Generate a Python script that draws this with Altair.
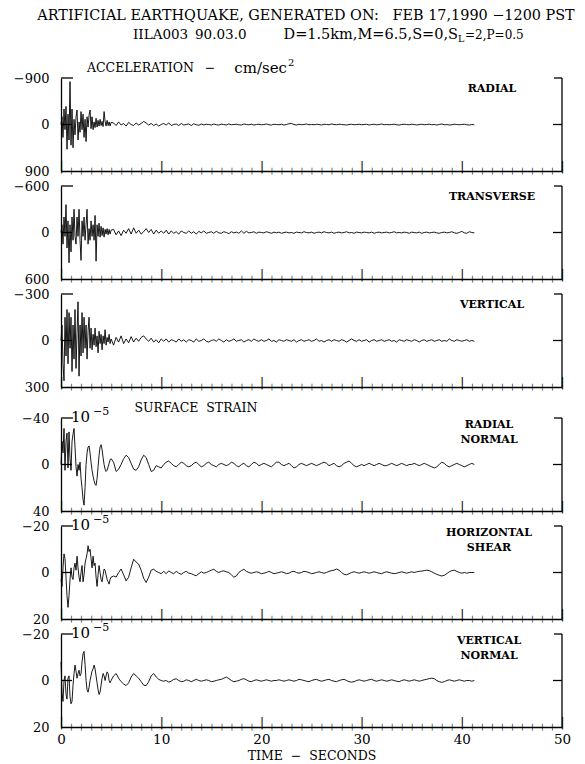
import altair as alt
import pandas as pd

FONT = "DejaVu Serif"
W = 501
H = 93
NB = "\u00a0"

EARLY_STEP = 0.1
TAIL_START = 5.25
TAIL_STEP = 0.25

# ---------------- data ----------------
# acceleration, cm/sec^2 (negative plotted upward)
acc_radial_early = [0, -150, 250, -300, 100, -350, 480, -200, 300, -830,
                    400, -300, 450, -100, 200, -150, -280, 300, -50, 150,
                    -250, 100, -200, 250, -100, 330, -150, 50, -180, -280,
                    80, -150, 100, -50, 60, -120, 50, -80, 30, -100,
                    20, -60, 40, -250, -60, 30, -80, 20, -50, 30, -40]
acc_radial_tail = [-30, 20, -50, 10, -20, 30, -40, 0, 20, -30,
                   10, -20, -60, -30, 10, -20, 20, -10, 30, 0,
                   -20, 10, -30, 20, 0, -10, 20, -20, 10, 0,
                   -10, 20, -15, 5, 15, -10, 10, -5, 0, 10,
                   -10, 5, 10, -5, 0, 10, -10, 5, 0, -5,
                   5, 10, -10, 0, 5, -5, 10, 0, -5, 5,
                   0, -10, 5, 10, -5, 0, 5, -5, 10, 0,
                   -15, -20, 0, 10, -5, 5, 0, -10, 5, 0,
                   5, -5, 0, 10, -5, 0, 5, -10, 0, 5,
                   -5, 0, 5, 10, 0, -5, 5, 0, -5, 5,
                   0, -5, 10, 0, -5, 5, 0, -10, 5, 0,
                   5, 0, -5, 5, 10, 0, -5, 0, 5, -5,
                   0, 10, 0, -5, 5, 0, -5, 5, 0, 10,
                   0, -10, 5, 0, 10, 5, -5, 0, 5, 0,
                   -5, 5, 10, 0, 5]
acc_trans_early = [0, -100, 150, -200, 50, -360, 200, -150, 390, -100,
                   250, -200, 100, -300, 50, 150, -200, 50, -300, 100,
                   360, -150, 50, -200, 100, -100, -300, 150, -50, 100,
                   -150, 50, -100, 100, -220, 370, -100, 50, -120, 60,
                   -80, 40, -60, 60, -40, 20, -50, 30, -40, 20, -30]
acc_trans_tail = [-40, 30, -20, 40, -30, 10, -50, 20, -60, 10,
                  -30, 20, -10, -50, 0, -40, 20, -30, 10, -20,
                  10, -30, 20, -20, 10, -10, 20, -20, 0, 10,
                  -20, 10, -10, 20, -15, 5, -20, 10, 0, -10,
                  10, -15, 5, 10, -10, 0, 15, -10, 5, -5,
                  10, -20, 10, -15, 5, 0, -10, 10, -5, 0,
                  5, -10, 0, 10, -5, 5, -5, 10, 0, -5,
                  5, 0, 10, -5, 0, 5, -10, 0, 5, -5,
                  10, 0, -5, 5, -10, 0, 5, -5, 10, 0,
                  -5, 5, 0, -10, 5, 0, 10, -5, 0, 5,
                  -5, 0, 5, -5, 10, 0, -5, 5, 0, -5,
                  5, 0, -10, 5, 0, 5, -5, 0, 10, -5,
                  0, 5, -5, 10, 0, -5, 5, 0, -5, 5,
                  10, 0, -5, 5, 0, -10, 5, 10, 0, -15,
                  5, 10, -10, 0, 5]
acc_vert_early = [0, -100, 150, 260, -150, 100, -200, 150, -180, 50,
                  -150, 200, -100, 120, -200, 180, -50, -250, 230, -100,
                  100, -180, 80, -150, 50, -100, 120, -60, -150, 50,
                  -80, 60, -40, 30, -80, 40, -30, 80, -60, 20,
                  -40, 60, -30, 20, -70, 30, -20, 10, -40, 20, -10]
acc_vert_tail = [30, -20, 10, -30, 20, -10, 15, -25, 10, -15,
                 5, -20, -30, -10, 5, -15, 10, -5, 15, -10,
                 5, -10, 10, -5, 0, 10, -10, 5, -5, 10,
                 -5, 0, 10, -10, 5, 0, -10, 5, 10, 0,
                 -5, 5, -10, 0, 10, -5, 5, 0, -10, 5,
                 0, -5, 10, 0, -5, 5, -10, 0, 5, -5,
                 5, 0, -10, 5, 0, 10, -5, 0, 5, -5,
                 0, 5, -5, 10, 0, -5, 5, 0, -5, 5,
                 0, -10, 5, 0, 10, 0, -5, 5, -5, 0,
                 5, -5, 0, 10, 0, -10, 0, 5, -5, 5,
                 0, -5, 10, 0, -5, 5, 0, -5, 5, 0,
                 -5, 5, 0, 10, -5, 0, 5, -5, 0, 5,
                 -5, 0, 10, 0, -5, 5, 0, -5, 5, 0,
                 -5, 5, 0, 5, -10, 0, 5, -5, 0, 5,
                 0, -5, 5, 0, 5]
# surface strain, 1e-5
str_radial_early = [0, -20, -10, -31, 5, -20, -27, 3, -28, -5,
                    5, -20, -26, -31, -15, 2, 10, 0, 5, -2,
                    12, 20, 30, 35, 20, 0, -10, -15, -16, -10,
                    -2, 5, 10, 14, 17, 18, 12, 2, -8, -15,
                    -17, -13, -6, 0, 4, 6, 5, 2, -1, -4, -5]
str_radial_tail = [-2, 6, 4, 0, -5, -8, -6, -1, 4, 5,
                   2, -4, -8, -6, 0, 6, 5, 1, 2, 3,
                   0, -2, -3, -1, 1, 2, 0, -2, -1, 1,
                   2, 1, -1, -2, 0, 2, 1, -1, -2, 0,
                   1, 2, 0, -1, 0, 1, 0, -2, -1, 1,
                   2, 0, -1, 1, 2, 0, -2, -1, 1, 0,
                   -1, 0, 1, 2, 0, -2, -2, 0, 1, 0,
                   -1, 1, 3, 2, 0, -1, 0, 1, 0, -1,
                   0, 1, 0, -1, -2, -1, 1, 0, -1, 1,
                   2, 1, -1, -2, -3, -1, 1, 2, 1, 0,
                   1, 0, -1, 0, 1, 0, -1, 0, 1, 1,
                   0, -1, 0, 1, 0, -1, 0, 1, 0, 0,
                   -1, 0, 1, 0, -1, 0, 1, 2, 3, 2,
                   0, -2, -1, 1, 2, 1, 0, -1, 0, 1,
                   2, 1, 0, -1, 0]
str_shear_early = [3, 6, -2, -8, -6, 2, 10, 15, 10, 3,
                   -2, 2, 3, -2, -4, -1, -7, -2, 2, 4,
                   0, -3, 4, 1, -4, -6, -8, -11.5, -9, -10,
                   -6, -2, -7, -3, -4, 2, 6, 1, -3, 0,
                   3, 4, 1, -1.5, -1, 1, 3, 4, 5, 3, 2]
str_shear_tail = [1.5, 2, 0, -1.5, 1, 3.6, 2, -2, -5.7, -4.5,
                  -3.6, -1, 2.5, 4.3, 2, -1, -1.4, -0.5, 0, 0.5,
                  -0.5, 0.5, -0.7, 0, 0.5, -0.5, 0.3, 0.8, 0, -0.5,
                  0.3, 0.5, 1, 1.4, 0.5, -0.3, 0.3, 0, -0.5, -1,
                  -1.4, -0.5, 0, -0.5, -0.7, -0.3, 0, 1, 2, 1.5,
                  0, -0.8, -1.4, -0.5, 0, 0.3, 0, -0.3, 0, 0.5,
                  0.3, 0, -0.5, 0, 0.5, 0.3, 0, -0.3, 0, 0.5,
                  0.3, -0.3, -0.5, 0, 0.3, 0, -0.5, -0.3, 0, 0.5,
                  0.3, 0, -0.3, 0, 0.3, 0, -0.5, -0.8, -1, -1.5,
                  -1, 0, 0.8, 1, 0.5, 0, -0.3, 0, 0.3, 0,
                  -0.3, 0, 0.3, 0, -0.3, 0, 0.3, 0.5, 0, -0.3,
                  0, 0.3, 0.5, 0.3, 0, -0.3, 0, 0.3, 0, -0.3,
                  0, -0.3, -0.5, -0.6, -0.8, -1, -0.8, -0.3, 0.3, 0.8,
                  1.2, 1.5, 1.2, 0.5, -0.3, -0.8, -1, -0.5, 0, 0.3,
                  0, 0.3, 0, 0, 0]
str_vert_early = [-8, 5, 9, 0, -2, 6, 8, -1, -2, 7,
                  10, 9, 2, -3, -6.6, -4, -1, -3, -4.4, -2,
                  -3, -8, -11.5, -12.5, -7, 0, 4, 5, 3, 0,
                  -2, -4, -5, -6.6, -5, -2, 1, 4, 6, 5,
                  2, -1, -3, -2, 0, -2, -3.7, -3, 0, 1, 0]
str_vert_tail = [-2, -3, -1, 0.5, 1.5, 2.2, 1, -1.5, -3, -2,
                 -1, 0.5, 2, 2.2, 0.5, -2, -3, -1.5, -0.5, 0,
                 0.3, 0, 0.7, 0.3, -0.5, -0.7, 0, 0.5, 0.3, -0.3,
                 0, 0.5, 0, -0.5, 0, 0.3, 0, -0.3, 0, 0.5,
                 0.3, 0, -0.3, -0.5, -1, -1.5, -0.8, 0, 0.5, 0.3,
                 0, -0.5, -0.8, -0.3, 0.3, 0.5, 0, -0.3, 0, 0.3,
                 0, -0.3, 0, 0.3, 0, 0, -0.3, 0, 0.3, 0,
                 -0.3, 0, 0.3, 0, -0.5, -0.3, 0, 0.3, 0.5, 0,
                 -0.3, -0.5, 0, 0.3, 0, -0.3, -0.5, 0, 0.3, 0.5,
                 0, -0.3, -0.5, 0, 0.5, 0.7, 0.5, 0, -0.3, 0,
                 0.3, 0, -0.3, -0.5, 0, 0.3, 0, -0.3, 0, 0.3,
                 0, -0.3, 0, 0.3, 0.5, 0, -0.3, 0, 0.3, 0,
                 -0.3, 0, 0.3, 0, -0.3, -0.5, -0.8, -1, -0.8, 0,
                 0.5, 0.8, 0.5, 0, -0.3, 0, 0.3, 0, -0.3, 0,
                 0.3, 0, 0, 0.3, 0]

PANEL_LIMITS = [900, 600, 300, 40, 20, 20]
PANEL_NAMES = [["RADIAL"], ["TRANSVERSE"], ["VERTICAL"],
               ["RADIAL", "NORMAL"], ["HORIZONTAL", "SHEAR"], ["VERTICAL", "NORMAL"]]
SECOND_TICKS = list(range(0, 51))
DECADE_TICKS = [0, 10, 20, 30, 40, 50]

TITLE_1 = "ARTIFICIAL EARTHQUAKE, GENERATED ON:" + NB * 3 + "FEB 17,1990 \u22121200 PST"
TITLE_2_ID = "IILA003"
TITLE_2_VER = "90.03.0"
TITLE_2A = "D=1.5km,M=6.5,S=0,S"
TITLE_2SUB = "L"
TITLE_2B = "=2,P=0.5"
ACC_WORD = "ACCELERATION"
ACC_DASH = "\u2212"
ACC_UNIT = "cm/sec"
ACC_POW = "2"
STRAIN_LABEL = "SURFACE" + NB * 2 + "STRAIN"
EXP_BASE = "10"
EXP_POW = "\u22125"
X_TITLE = "TIME" + NB * 2 + "\u2212" + NB * 2 + "SECONDS"


def series(early, tail):
    t = [round(i * EARLY_STEP, 3) for i in range(len(early))]
    t += [round(TAIL_START + i * TAIL_STEP, 3) for i in range(len(tail))]
    return pd.DataFrame({"t": t, "v": list(early) + list(tail)})


TRACES = [series(acc_radial_early, acc_radial_tail),
          series(acc_trans_early, acc_trans_tail),
          series(acc_vert_early, acc_vert_tail),
          series(str_radial_early, str_radial_tail),
          series(str_shear_early, str_shear_tail),
          series(str_vert_early, str_vert_tail)]

one = pd.DataFrame({"k": [0]})
LW = 1.3
X_SCALE = alt.Scale(domain=[0, 50], nice=False, zero=False)


def txt(s, x, y, size=12, align="center", baseline="middle", weight="normal"):
    return alt.Chart(one).mark_text(
        text=s, font=FONT, fontSize=size, align=align, baseline=baseline,
        color="black", fontWeight=weight
    ).encode(x=alt.value(x), y=alt.value(y))


def seg(**enc):
    return alt.Chart(one).mark_rule(color="black", strokeWidth=LW).encode(**enc)


def bottom_axis():
    # a top-oriented axis pulled down to the bottom edge; its "|" labels stand on the
    # bottom line as inward ticks: short every second, long every ten seconds
    return alt.Axis(orient="top", offset=-H, values=SECOND_TICKS, ticks=False,
                    domain=True, grid=False, labels=True,
                    labelExpr="'|'", labelFont="DejaVu Sans", labelColor="black",
                    labelFontSize={"condition": {"test": "datum.value % 10 === 0", "value": 12},
                                   "value": 7},
                    labelPadding=-2, labelOverlap=False, labelFlush=False, labelBound=False)


def panel(i):
    lim = PANEL_LIMITS[i]
    x_enc = alt.X("t:Q", scale=X_SCALE, axis=bottom_axis(), title=None)
    y_axis = alt.Axis(values=[-lim, 0, lim], ticks=False, grid=False, domain=True,
                      labelPadding=12,
                      labelExpr="datum.value == 0 ? '0' : datum.label + '" + NB + NB + "'")
    y_enc = alt.Y("v:Q", scale=alt.Scale(domain=[-lim, lim], reverse=True, nice=False, zero=False),
                  axis=y_axis, title=None)

    trace = alt.Chart(TRACES[i]).mark_line(color="black", strokeWidth=0.9).encode(x=x_enc, y=y_enc)

    layers = [trace,
              seg(x=alt.value(W), y=alt.value(0), y2=alt.value(H)),
              seg(x=alt.value(0), x2=alt.value(12), y=alt.value(0)),
              seg(x=alt.value(W - 8), x2=alt.value(W), y=alt.value(0)),
              seg(x=alt.value(0), x2=alt.value(11), y=alt.value(H / 2)),
              seg(x=alt.value(W - 9), x2=alt.value(W), y=alt.value(H / 2))]

    names = PANEL_NAMES[i]
    if len(names) == 1:
        layers.append(txt(names[0], 431, 11, size=11, weight="bold"))
    else:
        layers.append(txt(names[0], 428, 7, size=11, weight="bold"))
        layers.append(txt(names[1], 428, 22, size=11, weight="bold"))

    if i == 0:
        layers.append(txt(TITLE_1, 245, -62, size=14.4))
        layers.append(txt(TITLE_2_ID, 72, -43, size=13.5, align="left"))
        layers.append(txt(TITLE_2_VER, 134, -43, size=13.5, align="left"))
        layers.append(txt(TITLE_2A, 397, -43, size=14.5, align="right"))
        layers.append(txt(TITLE_2SUB, 397, -39, size=9.5, align="left"))
        layers.append(txt(TITLE_2B, 404, -43, size=12, align="left"))
        layers.append(txt(ACC_WORD, 26, -10, size=12.5, align="left"))
        layers.append(txt(ACC_DASH, 149, -10, size=12.5))
        layers.append(txt(ACC_UNIT, 226, -10, size=15, align="right"))
        layers.append(txt(ACC_POW, 227, -15, size=10, align="left"))
    if i >= 3:
        layers.append(txt(EXP_BASE, 10, -1, size=15, align="left"))
        layers.append(txt(EXP_POW, 32, -6, size=11, align="left"))
    if i == 3:
        layers.append(txt(STRAIN_LABEL, 135, -10, size=12.5))

    return alt.layer(*layers).properties(width=W, height=H)


spacer = alt.Chart(one).mark_point(opacity=0).encode(
    x=alt.value(0), y=alt.value(0)).properties(width=W, height=1)

# strip below the last panel carrying the time labels and the axis title
label_axis = alt.Axis(orient="bottom", offset=-11, values=DECADE_TICKS, labels=True,
                      ticks=False, domain=False, grid=False, labelFlush=False,
                      labelPadding=0, labelFontSize=13.5, titlePadding=4, format="d")
time_strip = alt.Chart(TRACES[5]).mark_point(opacity=0).encode(
    x=alt.X("t:Q", scale=X_SCALE, axis=label_axis, title=X_TITLE),
    y=alt.value(0)
).properties(width=W, height=1)

panels = [panel(0), panel(1), panel(2), spacer, panel(3), panel(4), panel(5), time_strip]

chart = alt.vconcat(*panels, spacing=15, bounds="flush").properties(
    padding={"left": 5, "top": 0, "right": 0, "bottom": 1}
).configure_view(stroke=None).configure_axis(
    labelFont=FONT, labelFontSize=13, labelColor="black",
    domainColor="black", domainWidth=LW,
    titleFont=FONT, titleFontSize=12.5, titleFontWeight="normal", titleColor="black"
)

chart.save("out.html", embed_options={"renderer": "svg", "actions": False})
